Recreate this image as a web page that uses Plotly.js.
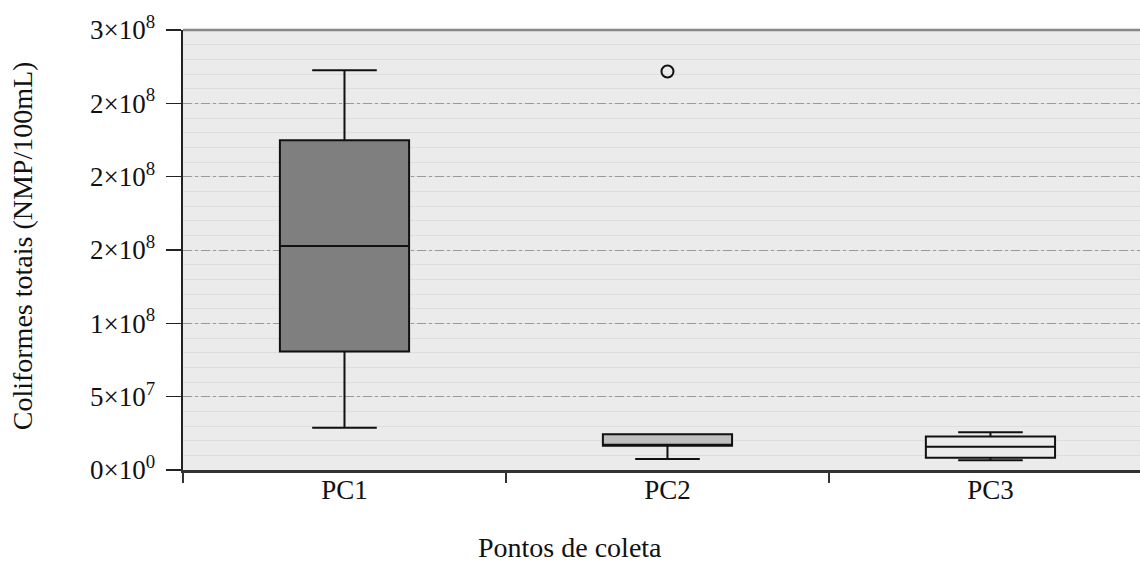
<!DOCTYPE html>
<html>
<head>
<meta charset="utf-8">
<script src="https://cdn.plot.ly/plotly-3.0.1.min.js"></script>
<style>html,body{margin:0;padding:0;background:#fff;}#chart{width:1140px;height:570px;}</style>
</head>
<body>
<div id="chart"></div>
<script>
// Data
const categories = ["PC1", "PC2", "PC3"];
const lowerFence = [28.8e6, 7.5e6, 6.6e6];
const q1Vals     = [80.8e6, 16.6e6, 8.4e6];
const medians    = [152.7e6, 16.6e6, 15.8e6];
const q3Vals     = [224.9e6, 24.4e6, 22.8e6];
const upperFence = [272.6e6, 24.4e6, 25.8e6];
const outlierCat = ["PC2"];
const outlierVal = [271.7e6];
const boxColors  = ["#7f7f7f", "#bfbfbf", "#ebebeb"];

const yTickVals  = [0, 5e7, 1e8, 1.5e8, 2e8, 2.5e8, 3e8];
const yTickText  = ["0×10<sup>0</sup>", "5×10<sup>7</sup>", "1×10<sup>8</sup>", "2×10<sup>8</sup>", "2×10<sup>8</sup>", "2×10<sup>8</sup>", "3×10<sup>8</sup>"];
const xTitle = "Pontos de coleta";
const yTitle = "Coliformes totais (NMP/100mL)";

const traces = categories.map((c, i) => ({
  type: "box",
  x: [c],
  q1: [q1Vals[i]],
  median: [medians[i]],
  q3: [q3Vals[i]],
  lowerfence: [lowerFence[i]],
  upperfence: [upperFence[i]],
  width: 0.4,
  whiskerwidth: 0.5,
  fillcolor: boxColors[i],
  line: {color: "#111", width: 2},
  boxpoints: false,
  showlegend: false,
  hoverinfo: "y"
}));

traces.push({
  type: "scatter",
  mode: "markers",
  x: outlierCat,
  y: outlierVal,
  marker: {symbol: "circle-open", size: 12, color: "#111", line: {width: 2, color: "#111"}},
  showlegend: false
});

const serif = "Liberation Serif, Times New Roman, serif";

const layout = {
  width: 1140, height: 570,
  margin: {l: 183, r: 0, t: 30, b: 100},
  paper_bgcolor: "#ffffff",
  plot_bgcolor: "#ebebeb",
  boxmode: "overlay",
  font: {family: serif, color: "#111"},
  xaxis: {
    type: "category",
    categoryorder: "array",
    categoryarray: categories,
    range: [-0.5, 2.463],
    tickson: "boundaries",
    ticks: "outside", ticklen: 10, tickwidth: 1.5, tickcolor: "#333",
    ticklabelstandoff: -6,
    showline: true, linecolor: "#333", linewidth: 2.5,
    showgrid: false, zeroline: false,
    tickfont: {size: 27, family: serif, color: "#111"}
  },
  yaxis: {
    range: [0, 3e8],
    tickvals: yTickVals, ticktext: yTickText,
    ticks: "outside", ticklen: 15, tickwidth: 1.5, tickcolor: "#222",
    ticklabelstandoff: 5,
    showline: true, linecolor: "#222", linewidth: 2.5,
    showgrid: true, gridcolor: "#9a9a9a", griddash: "dashdot", gridwidth: 1,
    zeroline: false,
    minor: {dtick: 1e7, showgrid: true, gridcolor: "#dedede", griddash: "solid", gridwidth: 1},
    tickfont: {size: 27, family: serif, color: "#111"}
  },
  annotations: [
    {text: xTitle, xref: "paper", yref: "paper", x: 0.4044, y: -0.177, xanchor: "center", yanchor: "middle",
     showarrow: false, font: {size: 28, family: serif, color: "#111"}},
    {text: yTitle, xref: "paper", yref: "paper", x: -0.168, y: 0.509, xanchor: "center", yanchor: "middle",
     textangle: -90, showarrow: false, font: {size: 28, family: serif, color: "#111"}}
  ],
  shapes: [{type: "line", xref: "paper", yref: "paper", x0: 0, x1: 1, y0: 1, y1: 1, line: {color: "#888", width: 2.5}}]
};

Plotly.newPlot("chart", traces, layout, {displayModeBar: false, staticPlot: true});
</script>
</body>
</html>
